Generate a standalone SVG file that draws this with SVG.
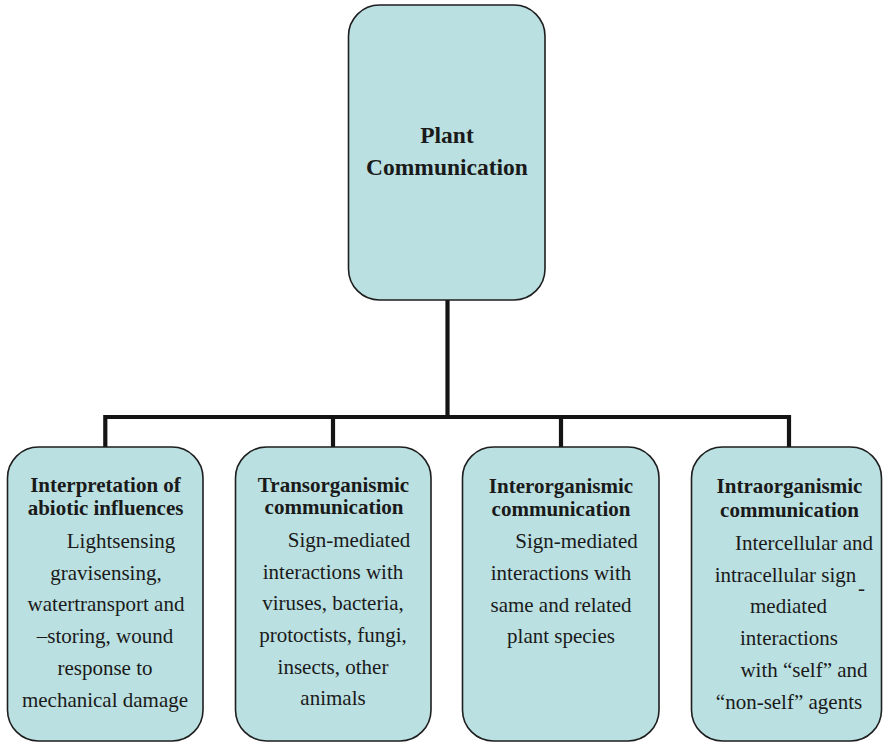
<svg xmlns="http://www.w3.org/2000/svg" width="885" height="743" viewBox="0 0 885 743">
<style>
.box{fill:#bae0e1;stroke:#1e1e1e;stroke-width:1.6}
.conn{fill:none;stroke:#141414;stroke-width:4.2;stroke-linecap:butt}
text{font-family:"Liberation Serif","Times New Roman",serif;fill:#1a1a1a;text-anchor:middle}
.t{font-weight:bold;font-size:21px}
.b{font-size:21px}
.top{font-weight:bold;font-size:23.5px}
</style>
<rect width="885" height="743" fill="#ffffff"/>
<g id="connectors">
<path class="conn" d="M447.5,300 V417"/>
<path class="conn" d="M105.3,447 V417 H789 V447"/>
<path class="conn" d="M333,417 V447"/>
<path class="conn" d="M561,417 V447"/>
</g>
<g id="plant-communication">
<rect class="box" x="348.5" y="5" width="196.5" height="295" rx="31" ry="31"/>
<text class="top" x="447" y="143">Plant</text>
<text class="top" x="447" y="175">Communication</text>
</g>
<g id="abiotic">
<rect class="box" x="7.5" y="447" width="195.5" height="294" rx="31" ry="31"/>
<text class="t" x="105.5" y="492">Interpretation of</text>
<text class="t" x="105.5" y="515">abiotic influences</text>
<text class="b" x="121" y="548">Lightsensing</text>
<text class="b" x="106" y="580">gravisensing,</text>
<text class="b" x="106" y="611">watertransport and</text>
<text class="b" x="105" y="643">–storing, wound</text>
<text class="b" x="105" y="675">response to</text>
<text class="b" x="105" y="707">mechanical damage</text>
</g>
<g id="transorganismic">
<rect class="box" x="235.5" y="447" width="195.5" height="294" rx="31" ry="31"/>
<text class="t" x="333.5" y="492">Transorganismic</text>
<text class="t" x="334" y="514">communication</text>
<text class="b" x="349" y="547">Sign-mediated</text>
<text class="b" x="333" y="579">interactions with</text>
<text class="b" x="333" y="610">viruses, bacteria,</text>
<text class="b" x="333" y="642">protoctists, fungi,</text>
<text class="b" x="333" y="674">insects, other</text>
<text class="b" x="333" y="705">animals</text>
</g>
<g id="interorganismic">
<rect class="box" x="462.5" y="447" width="196.5" height="294" rx="31" ry="31"/>
<text class="t" x="561" y="493">Interorganismic</text>
<text class="t" x="561" y="516">communication</text>
<text class="b" x="576.5" y="548">Sign-mediated</text>
<text class="b" x="561" y="580">interactions with</text>
<text class="b" x="561" y="612">same and related</text>
<text class="b" x="561" y="643">plant species</text>
</g>
<g id="intraorganismic">
<rect class="box" x="691.5" y="447" width="190" height="294" rx="31" ry="31"/>
<text class="t" x="789.5" y="493">Intraorganismic</text>
<text class="t" x="789.5" y="517">communication</text>
<text class="b" x="804" y="550">Intercellular and</text>
<text class="b" x="785.5" y="582">intracellular sign</text>
<text class="b" x="861.5" y="595">-</text>
<text class="b" x="788.5" y="613">mediated</text>
<text class="b" x="789" y="645">interactions</text>
<text class="b" x="804" y="677">with “self” and</text>
<text class="b" x="789" y="709">“non-self” agents</text>
</g>
</svg>
